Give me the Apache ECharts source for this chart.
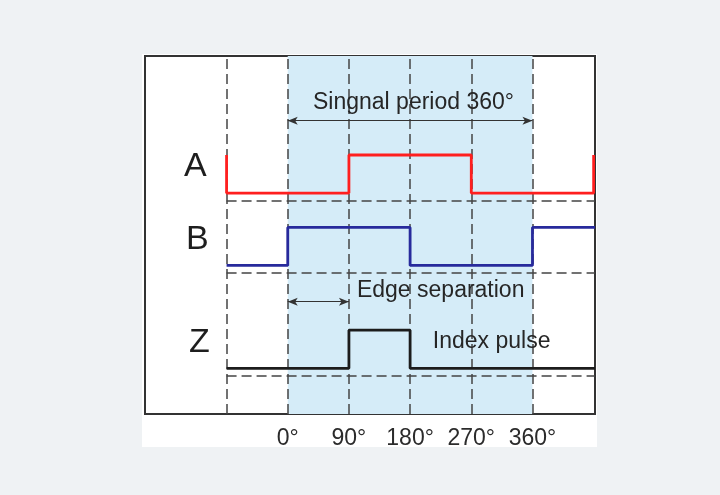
<!DOCTYPE html>
<html>
<head>
<meta charset="utf-8">
<script src="https://cdn.jsdelivr.net/npm/echarts@6/dist/echarts.min.js"></script>
<style>
  html, body { margin: 0; padding: 0; background: #eff2f4; }
  #chart { width: 720px; height: 495px; }
</style>
</head>
<body>
<div id="chart"></div>
<script>
// ---- data ----
const tickAngles = [0, 90, 180, 270, 360];
const gridAngles = [-90, 0, 90, 180, 270, 360];
const periodSpan = [0, 360];
const edgeSpan = [0, 90];

// signal vertices (angle, state) drawn as step lines
const aAngles = [-90, -90, 90, 270, 450];
const aStates = [1, 0, 1, 0, 1];
const bAngles = [-90, 0, 180, 360, 452];
const bStates = [0, 1, 0, 1, 1];
const zAngles = [-90, 90, 180, 452];
const zStates = [0, 1, 0, 0];

const channelNames = ['A', 'B', 'Z'];
const channelBase = [58, 39, 12];   // low level of each channel (y units)
const amplitude = 10;
const dashOffset = 2;               // dashed reference line below each channel

// ---- layout constants ----
const X_MIN = -210, X_MAX = 452;
const FONT = '"Liberation Sans", Arial, Helvetica, sans-serif';

function stepData(angles, states, base) {
  return angles.map((a, i) => [a, base + amplitude * states[i]]);
}

const chart = echarts.init(document.getElementById('chart'));

const dashStyle = { color: '#444', type: [10, 5], width: 1.5 };

const option = {
  backgroundColor: '#eff2f4',
  animation: false,
  graphic: [{
    type: 'rect', z: -100, silent: true,
    shape: { x: 142, y: 54, width: 455, height: 393 },
    style: { fill: '#ffffff' }
  }],
  grid: {
    left: 145, top: 56, width: 450, height: 358,
    show: true, borderColor: '#333', borderWidth: 2, backgroundColor: '#ffffff'
  },
  xAxis: {
    type: 'value', min: X_MIN, max: X_MAX,
    axisLine: { show: false }, axisTick: { show: false }, splitLine: { show: false },
    axisLabel: {
      customValues: tickAngles,
      formatter: v => v + '°',
      fontSize: 23, color: '#2b2b2b', margin: 13, fontFamily: FONT
    }
  },
  yAxis: { type: 'value', min: 0, max: 94, show: false },
  series: [
    {
      name: 'shade', type: 'line', data: [], z: 1, silent: true,
      markArea: {
        silent: true,
        itemStyle: { color: '#d5ecf8' },
        data: [[{ xAxis: periodSpan[0] }, { xAxis: periodSpan[1] }]]
      }
    },
    {
      name: 'grid', type: 'line', data: [], z: 2, silent: true,
      markLine: {
        silent: true, symbol: 'none', label: { show: false },
        lineStyle: dashStyle,
        data: gridAngles.map(a => ({ xAxis: a })).concat(
          channelBase.map(b => [
            { coord: [gridAngles[0], b - dashOffset] },
            { coord: [X_MAX, b - dashOffset] }
          ]))
      }
    },
    {
      name: 'A', type: 'line', step: 'end', z: 5, showSymbol: false, symbol: 'none',
      data: stepData(aAngles, aStates, channelBase[0]),
      lineStyle: { color: '#ff1f1f', width: 2.8 }
    },
    {
      name: 'B', type: 'line', step: 'end', z: 5, showSymbol: false, symbol: 'none',
      data: stepData(bAngles, bStates, channelBase[1]),
      lineStyle: { color: '#272a9c', width: 2.8 }
    },
    {
      name: 'Z', type: 'line', step: 'end', z: 5, showSymbol: false, symbol: 'none',
      data: stepData(zAngles, zStates, channelBase[2]),
      lineStyle: { color: '#1c1c1c', width: 2.8 }
    },
    {
      name: 'arrows', type: 'line', data: [], z: 4, silent: true,
      markLine: {
        silent: true, symbol: ['arrow', 'arrow'], symbolSize: [6, 10],
        label: { show: false },
        lineStyle: { color: '#333', type: 'solid', width: 1.2 },
        data: [
          [{ coord: [periodSpan[0], 77] }, { coord: [periodSpan[1], 77] }],
          [{ coord: [edgeSpan[0], 29.5] }, { coord: [edgeSpan[1], 29.5] }]
        ]
      }
    },
    {
      name: 'texts', type: 'scatter', symbolSize: 0, z: 6, silent: true,
      itemStyle: { opacity: 1 },
      label: {
        show: true, position: 'inside', formatter: p => p.name,
        color: '#262626', fontFamily: FONT, fontSize: 23
      },
      data: [
        { name: 'Singnal period 360°', value: [185, 81.7] },
        { name: 'Edge separation', value: [225, 32.3] },
        { name: 'Index pulse', value: [300, 18.9] },
        { name: channelNames[0], value: [-136, 65.0], label: { fontSize: 34, color: '#1e1e1e' } },
        { name: channelNames[1], value: [-133, 45.8], label: { fontSize: 34, color: '#1e1e1e' } },
        { name: channelNames[2], value: [-130, 18.8], label: { fontSize: 34, color: '#1e1e1e' } }
      ]
    }
  ]
};

chart.setOption(option);
</script>
</body>
</html>
